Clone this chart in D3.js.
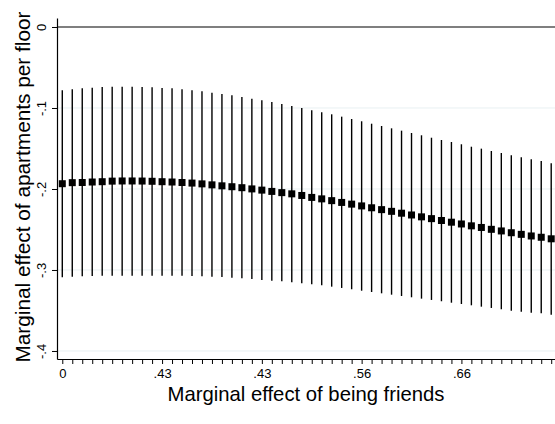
<!DOCTYPE html>
<html>
<head>
<meta charset="utf-8">
<script src="https://cdn.jsdelivr.net/npm/d3@7"></script>
<style>
  body { margin: 0; background: #fff; }
  text { font-family: "Liberation Sans", Arial, Helvetica, sans-serif; }
</style>
</head>
<body>
<div id="chart"></div>
<script>
// point estimates (marginal effect of apartments per floor)
var estimate = [-.1935,-.1922,-.1920,-.1914,-.1910,-.1903,-.1901,-.1901,-.1902,-.1905,
  -.1910,-.1914,-.1920,-.1927,-.1937,-.1949,-.1961,-.1972,-.1984,-.1999,
  -.2014,-.2030,-.2045,-.2060,-.2080,-.2104,-.2122,-.2144,-.2166,-.2187,
  -.2209,-.2232,-.2255,-.2276,-.2299,-.2321,-.2344,-.2366,-.2389,-.2410,
  -.2432,-.2455,-.2475,-.2498,-.2518,-.2540,-.2560,-.2580,-.2596,-.2615];
// upper confidence bound
var upper = [-.0781,-.0769,-.0757,-.0749,-.0741,-.0737,-.0737,-.0737,-.0741,-.0744,
  -.0753,-.0757,-.0769,-.0781,-.0794,-.0811,-.0827,-.0843,-.0864,-.0885,
  -.0905,-.0926,-.0951,-.0975,-.1000,-.1028,-.1053,-.1078,-.1107,-.1136,
  -.1164,-.1194,-.1222,-.1251,-.1280,-.1309,-.1337,-.1367,-.1395,-.1420,
  -.1448,-.1478,-.1502,-.1531,-.1556,-.1584,-.1609,-.1633,-.1654,-.1683];
// lower confidence bound
var lower = [-.3090,-.3083,-.3078,-.3074,-.3070,-.3070,-.3070,-.3070,-.3070,-.3070,
  -.3070,-.3070,-.3070,-.3074,-.3078,-.3083,-.3086,-.3095,-.3102,-.3111,
  -.3123,-.3132,-.3140,-.3152,-.3164,-.3177,-.3189,-.3206,-.3222,-.3238,
  -.3256,-.3272,-.3288,-.3305,-.3321,-.3337,-.3354,-.3370,-.3386,-.3404,
  -.3420,-.3436,-.3453,-.3469,-.3485,-.3502,-.3515,-.3528,-.3535,-.3552];
var xLabelPos = [0, 10, 20, 30, 40];
var xLabels = ["0", ".43", ".43", ".56", ".66"];
var yTicks = [0, -.1, -.2, -.3, -.4];
var yTickLabels = ["0", "-.1", "-.2", "-.3", "-.4"];

var data = estimate.map(function(d, i) {
  return {i: i, est: d, hi: upper[i], lo: lower[i]};
});

var W = 555, H = 424;
var svg = d3.select("#chart").append("svg")
  .attr("width", W).attr("height", H);

var x = d3.scaleLinear().domain([-0.53, 49.38]).range([57, 555]);
var y = d3.scaleLinear().domain([-0.4099, 0.0111]).range([359, 18]);

// faint grid lines
svg.append("g").selectAll("line")
  .data(yTicks.slice(1))
  .enter().append("line")
    .attr("x1", 57).attr("x2", W)
    .attr("y1", function(d) { return y(d); })
    .attr("y2", function(d) { return y(d); })
    .attr("stroke", "#e8f0f2").attr("stroke-width", 1);

// reference line at zero
svg.append("line")
  .attr("x1", 57).attr("x2", W)
  .attr("y1", y(0)).attr("y2", y(0))
  .attr("stroke", "#000").attr("stroke-width", 1.2);

// Y axis
var yAxis = svg.append("g")
  .attr("transform", "translate(57,0)")
  .call(d3.axisLeft(y).tickValues(yTicks).tickSize(5).tickSizeOuter(0)
    .tickFormat(function(d, i) { return yTickLabels[i]; }));
yAxis.select(".domain").attr("stroke-width", 1.2);
yAxis.selectAll(".tick line").attr("stroke-width", 1);
yAxis.selectAll(".tick text")
  .attr("font-size", 13)
  .attr("fill", "#000")
  .attr("text-anchor", "middle")
  .attr("x", 0).attr("dy", 0)
  .attr("transform", "translate(-11,0) rotate(-90)");

// X axis
var xAxis = svg.append("g")
  .attr("transform", "translate(0,359)")
  .call(d3.axisBottom(x).tickValues(d3.range(0, 50)).tickSize(5).tickSizeOuter(0)
    .tickFormat(function(d) {
      var k = xLabelPos.indexOf(d);
      return k >= 0 ? xLabels[k] : "";
    }));
xAxis.select(".domain").attr("stroke-width", 1.2);
xAxis.selectAll(".tick line").attr("stroke-width", 1);
xAxis.selectAll(".tick text")
  .attr("font-size", 13)
  .attr("fill", "#000")
  .attr("y", 9.5);

// confidence interval spikes
svg.append("g").selectAll("line")
  .data(data)
  .enter().append("line")
    .attr("x1", function(d) { return x(d.i); })
    .attr("x2", function(d) { return x(d.i); })
    .attr("y1", function(d) { return y(d.hi); })
    .attr("y2", function(d) { return y(d.lo); })
    .attr("stroke", "#000").attr("stroke-width", 1.4);

// point estimates
var s = 7;
svg.append("g").selectAll("rect")
  .data(data)
  .enter().append("rect")
    .attr("x", function(d) { return x(d.i) - s / 2; })
    .attr("y", function(d) { return y(d.est) - s / 2; })
    .attr("width", s).attr("height", s)
    .attr("fill", "#000");

// axis titles
svg.append("text")
  .attr("text-anchor", "middle")
  .attr("x", 306).attr("y", 401)
  .attr("font-size", 20.3)
  .text("Marginal effect of being friends");

svg.append("text")
  .attr("text-anchor", "middle")
  .attr("transform", "translate(30,187) rotate(-90)")
  .attr("font-size", 20.8)
  .text("Marginal effect of apartments per floor");
</script>
</body>
</html>
